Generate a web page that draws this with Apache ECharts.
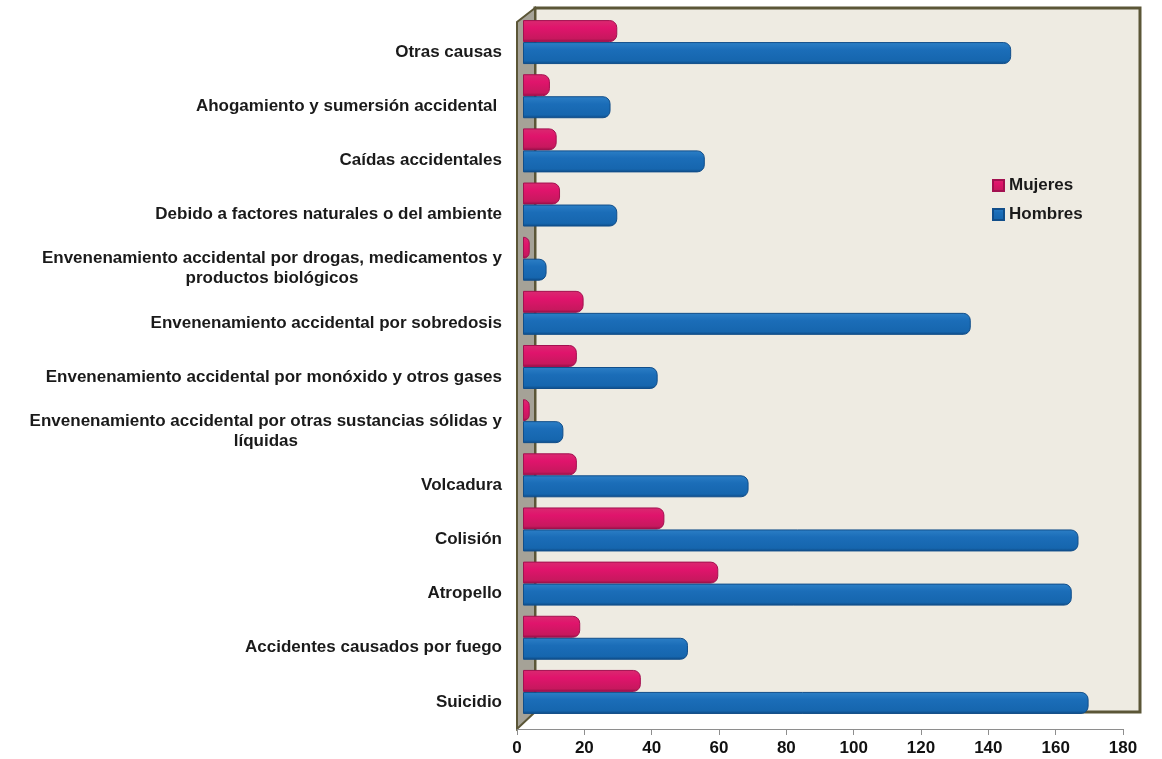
<!DOCTYPE html>
<html>
<head>
<meta charset="utf-8">
<script src="https://cdn.jsdelivr.net/npm/echarts@6/dist/echarts.min.js"></script>
<style>
html,body{margin:0;padding:0;background:#ffffff;}
#chart{width:1162px;height:759px;}
</style>
</head>
<body>
<div id="chart"></div>
<script>
// Categories listed top to bottom
const categories = [
  'Otras causas',
  'Ahogamiento y sumersión accidental ',
  'Caídas accidentales',
  'Debido a factores naturales o del ambiente',
  'Envenenamiento accidental por drogas, medicamentos y\nproductos biológicos',
  'Envenenamiento accidental por sobredosis',
  'Envenenamiento accidental por monóxido y otros gases',
  'Envenenamiento accidental por otras sustancias sólidas y\nlíquidas',
  'Volcadura',
  'Colisión',
  'Atropello',
  'Accidentes causados por fuego',
  'Suicidio'
];
const mujeres = [28, 8, 10, 11, 2, 18, 16, 2, 16, 42, 58, 17, 35];
const hombres = [145, 26, 54, 28, 7, 133, 40, 12, 67, 165, 163, 49, 168];
const xTicks = [0, 20, 40, 60, 80, 100, 120, 140, 160, 180];

const FONT = '"Liberation Sans", Arial, sans-serif';
const chart = echarts.init(document.getElementById('chart'), null, {renderer: 'canvas'});

function labelFormatter(v) {
  return v.split('\n').map(l => '{a|' + l + '}').join('\n');
}

const option = {
  animation: false,
  backgroundColor: '#ffffff',
  textStyle: {fontFamily: FONT},
  graphic: [
    { // back wall
      type: 'rect', z: -10, silent: true,
      shape: {x: 535, y: 8, width: 605, height: 704},
      style: {fill: '#EEEBE2', stroke: '#5B5637', lineWidth: 3}
    },
    { // side wall
      type: 'polygon', z: -9, silent: true,
      shape: {points: [[517, 22], [535, 8], [535, 712], [517, 729]]},
      style: {fill: '#A5A297', stroke: '#5B5637', lineWidth: 2}
    }
  ],
  legend: {
    data: ['Mujeres', 'Hombres'],
    orient: 'vertical',
    left: 987, top: 172,
    itemWidth: 11, itemHeight: 11, itemGap: 12,
    icon: 'rect',
    textStyle: {fontFamily: FONT, fontWeight: 'bold', fontSize: 17, color: '#1a1a1a'}
  },
  grid: [
    {left: 523, right: 33, top: 15, bottom: 40},   // bars
    {left: 517, right: 39, top: 25, bottom: 30}    // front axes
  ],
  xAxis: [
    {gridIndex: 0, type: 'value', min: 0, max: 180, interval: 20, show: false},
    {gridIndex: 1, type: 'value', min: 0, max: 180, interval: 20,
     axisLine: {show: true, lineStyle: {color: '#8E8E8E', width: 1}},
     axisTick: {show: true, length: 6, lineStyle: {color: '#8E8E8E'}},
     splitLine: {show: false},
     axisLabel: {margin: 11, fontFamily: FONT, fontWeight: 'bold', fontSize: 17, color: '#111',
       formatter: v => xTicks.includes(v) ? String(v) : ''}}
  ],
  yAxis: [
    {gridIndex: 0, type: 'category', data: categories, inverse: true, show: false},
    {gridIndex: 1, type: 'category', data: categories, inverse: true,
     axisLine: {show: false},
     axisTick: {show: false},
     axisLabel: {margin: 15, fontFamily: FONT, fontWeight: 'bold', fontSize: 17, color: '#1a1a1a',
       formatter: labelFormatter,
       rich: {a: {align: 'center', fontFamily: FONT, fontWeight: 'bold', fontSize: 17, color: '#1a1a1a', lineHeight: 20}}}}
  ],
  series: [
    {
      name: 'Mujeres', type: 'bar', xAxisIndex: 0, yAxisIndex: 0,
      data: mujeres, barWidth: 22, barGap: '0%',
      itemStyle: {
        borderRadius: [0, 7, 7, 0],
        color: new echarts.graphic.LinearGradient(0, 0, 0, 1, [
          {offset: 0, color: '#D92A70'},
          {offset: 0.35, color: '#E0146C'},
          {offset: 0.85, color: '#C7185E'},
          {offset: 1, color: '#8E0F44'}
        ]),
        borderColor: '#A31050', borderWidth: 1
      }
    },
    {
      name: 'Hombres', type: 'bar', xAxisIndex: 0, yAxisIndex: 0,
      data: hombres, barWidth: 22, barGap: '0%',
      itemStyle: {
        borderRadius: [0, 7, 7, 0],
        color: new echarts.graphic.LinearGradient(0, 0, 0, 1, [
          {offset: 0, color: '#2C7FC6'},
          {offset: 0.35, color: '#1B6DB8'},
          {offset: 0.85, color: '#1666AE'},
          {offset: 1, color: '#0D4A85'}
        ]),
        borderColor: '#114E8A', borderWidth: 1
      }
    }
  ]
};
chart.setOption(option);
</script>
</body>
</html>
